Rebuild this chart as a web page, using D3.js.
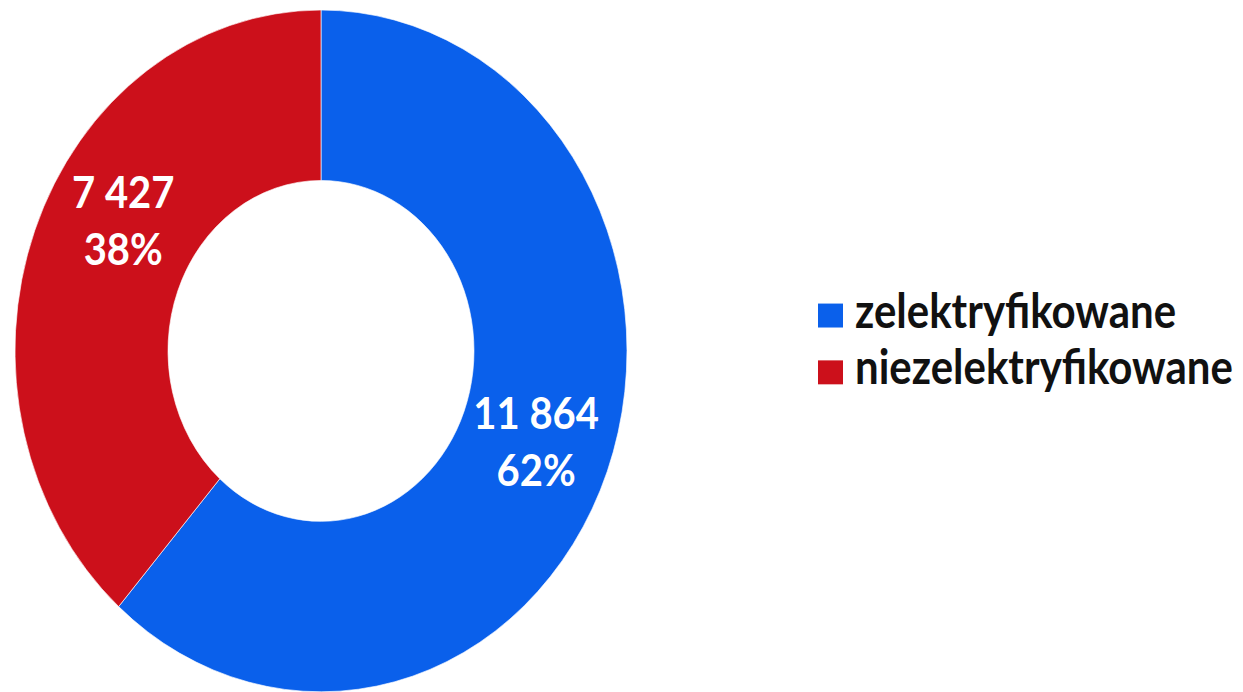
<!DOCTYPE html>
<html>
<head>
<meta charset="utf-8">
<script src="https://cdn.jsdelivr.net/npm/d3@7/dist/d3.min.js"></script>
<style>
  html, body { margin: 0; padding: 0; background: #ffffff; }
  svg { display: block; }
</style>
</head>
<body>
<svg id="chart" width="1243" height="692"></svg>
<script>
// ---- data ----
const categories = ["zelektryfikowane", "niezelektryfikowane"];
const values = [11864, 7427];
const valueLabels = ["11 864", "7 427"];
const percentLabels = ["62%", "38%"];
const colors = ["#0a60eb", "#cc101b"];

// ---- layout ----
const W = 1243, H = 692;
const stretchY = 1.114;          // reference is vertically stretched
const cx = 321, cy = 315;
const outerR = 306, innerR = 153;
const labelR = 230;
const labelNudgeDeg = [0, 10];

const svg = d3.select("#chart");
const root = svg.append("g").attr("transform", `scale(1,${stretchY})`);

const pie = d3.pie().sort(null).value(d => d)(values);
const arc = d3.arc().innerRadius(innerR).outerRadius(outerR);

const g = root.append("g").attr("transform", `translate(${cx},${cy})`);

g.selectAll("path.slice")
  .data(pie)
  .join("path")
  .attr("class", "slice")
  .attr("d", arc)
  .attr("fill", (d, i) => colors[i])
  .attr("stroke", "#ffffff")
  .attr("stroke-width", 0.6);

const labels = g.selectAll("text.lab")
  .data(pie)
  .join("text")
  .attr("class", "lab")
  .attr("transform", (d, i) => {
    const a = (d.startAngle + d.endAngle) / 2 + labelNudgeDeg[i] * Math.PI / 180;
    return `translate(${labelR * Math.sin(a)},${-labelR * Math.cos(a)})`;
  })
  .attr("text-anchor", "middle")
  .attr("fill", "#ffffff")
  .style("font-family", "Lato, 'Open Sans', sans-serif")
  .style("font-weight", "700")
  .style("font-size", "40px");

labels.append("tspan").attr("x", 0).attr("y", -11).text((d, i) => valueLabels[i]);
labels.append("tspan").attr("x", 0).attr("y", 40).text((d, i) => percentLabels[i]);

// ---- legend ----
const legend = root.append("g").attr("transform", "translate(818,0)");
const rows = legend.selectAll("g.row")
  .data(categories)
  .join("g")
  .attr("class", "row")
  .attr("transform", (d, i) => `translate(0,${294 + i * 51})`);

rows.append("rect")
  .attr("x", 0).attr("y", -21.5)
  .attr("width", 25).attr("height", 21.5)
  .attr("fill", (d, i) => colors[i]);

rows.append("text")
  .attr("x", 37).attr("y", 0)
  .attr("fill", "#111111")
  .style("font-family", "Lato, 'Open Sans', sans-serif")
  .style("font-weight", "700")
  .style("font-size", "42px")
  .text(d => d);
</script>
</body>
</html>
